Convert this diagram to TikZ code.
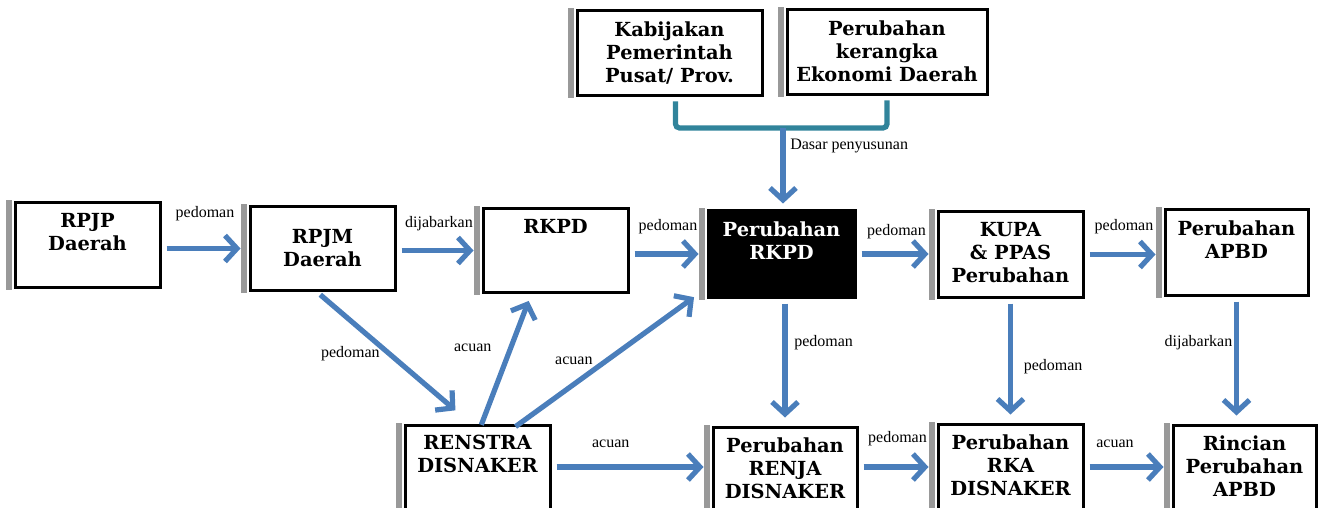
\documentclass[tikz,border=0pt]{standalone}
\usepackage{fontspec}
\usepackage{tikz}
\usetikzlibrary{arrows.meta}
\usetikzlibrary{calc}
\newfontfamily\boxfamily{DejaVu Serif}
\newfontfamily\lblfamily{Liberation Serif}
\definecolor{flowblue}{HTML}{4A7EBB}
\definecolor{brackteal}{HTML}{31849B}
\definecolor{sidegray}{HTML}{999999}
\tikzset{box/.style 2 args = {draw, line width = 1.5pt, fill = white, inner xsep = 0, inner ysep = 5.25pt,
    font = \boxfamily\bfseries\fontsize{9.7}{11.5}\selectfont,
    execute at begin node = {\begin{minipage}[c][#2][t]{#1}\centering},
    execute at end node = {\end{minipage}}}}
\tikzset{midbox/.style 2 args = {draw, line width = 1.5pt, fill = white, inner xsep = 0, inner ysep = 5.25pt,
    font = \boxfamily\bfseries\fontsize{9.7}{11.5}\selectfont,
    execute at begin node = {\begin{minipage}[c][#2][c]{#1}\centering},
    execute at end node = {\end{minipage}}}}
\tikzset{flow/.style = {draw = flowblue, line width = 2.6pt, -{Straight Barb[length = 6pt, width = 13pt]},
    shorten < = 2.5pt, shorten > = 4pt}}
\tikzset{bracket/.style = {draw = brackteal, line width = 2.6pt, rounded corners = 2pt}}
\tikzset{lbl/.style = {font = \lblfamily\fontsize{8}{9}\selectfont}}

\begin{document}
\begin{tikzpicture}[x = 0.5pt, y = -0.5pt]

      \useasboundingbox (0, 0) rectangle (1324, 508);
      \clip (0, 0) rectangle (1324, 508);

      \node [box = {92.5pt}{32pt}] (kebijakan) at (669.5, 53.5) {Kabijakan\\Pemerintah\\Pusat/ Prov.};
      \node [box = {100pt}{32pt}] (kerangka) at (887, 52.5) {Perubahan\\kerangka\\Ekonomi Daerah};

      \node [box = {72.5pt}{31.5pt}] (rpjp) at (87.5, 245) {RPJP\\Daerah};
      \node [midbox = {72.5pt}{31pt}] (rpjm) at (322.5, 248.5) {RPJM\\Daerah};
      \node [box = {72.5pt}{31pt}] (rkpd) at (555.5, 250.5) {RKPD};
      \node [box = {73.5pt}{32.5pt}, fill = black, text = white] (prkpd) at (781.5, 254) {Perubahan\\RKPD};
      \node [box = {72.5pt}{32pt}] (kupa) at (1010.5, 254.5) {KUPA\\\& PPAS\\Perubahan};
      \node [box = {71.5pt}{32pt}] (papbd) at (1236.5, 252.5) {Perubahan\\APBD};

      \node [box = {72.5pt}{34.5pt}] (renstra) at (477.5, 470) {RENSTRA\\DISNAKER};
      \node [box = {72pt}{34.5pt}] (renja) at (785, 472) {Perubahan\\RENJA\\DISNAKER};
      \node [box = {72.5pt}{34.5pt}] (rka) at (1010.5, 469) {Perubahan\\RKA\\DISNAKER};
      \node [box = {71.5pt}{34.5pt}] (rincian) at (1244.5, 470) {Rincian\\Perubahan\\APBD};

      \foreach \n in {kebijakan, kerangka, rpjp, rpjm, rkpd, prkpd, kupa, papbd, renstra, renja, rka, rincian}
        \fill [sidegray] ([shift = {(-3.75pt, -0.5pt)}] \n.south west) rectangle ([shift = {(-0.75pt, 0.5pt)}] \n.north west);

      \coordinate (join) at (783, 128);
      \draw [bracket] ([xshift = 3pt, yshift = -2pt] kebijakan.south) |- (join) -| ([yshift = -2pt] kerangka.south);
      \draw [flow, shorten < = 0pt, shorten > = 3pt] (join) -- node [lbl, pos = 0.22, right = -1pt] (dasar) {Dasar penyusunan} (join |- prkpd.north);

      \draw [flow] (rpjp.east |- rpjm.west) -- node [lbl, above = 9pt] (l1) {pedoman} (rpjm.west);
      \draw [flow] (rpjm.east |- rkpd.west) -- node [lbl, above = 5pt] (l2) {dijabarkan} (rkpd.west);
      \draw [flow] (rkpd.east |- prkpd.west) -- node [lbl, above = 5.5pt] (l3) {pedoman} (prkpd.west);
      \draw [flow] (prkpd.east) -- node [lbl, above = 3pt] (l4) {pedoman} (prkpd.east -| kupa.west);
      \draw [flow] (kupa.east) -- node [lbl, above = 5.5pt] (l5) {pedoman} (kupa.east -| papbd.west);

      \draw [flow] ([yshift = 1.5pt] renstra.east) -- node [lbl, pos = 0.37, above = 5pt] (l6) {acuan} ([yshift = 1.5pt] renstra.east -| renja.west);
      \draw [flow] ([yshift = 1pt] renja.east |- rka.west) -- node [lbl, above = 6pt] (l7) {pedoman} ([yshift = 1pt] rka.west);
      \draw [flow] ([yshift = 1pt] rka.east) -- node [lbl, pos = 0.35, above = 5pt] (l8) {acuan} ([yshift = 1pt] rka.east -| rincian.west);

      \draw [flow] (prkpd.south -| renja.north) -- node [lbl, pos = 0.35, right = 0pt] (l9) {pedoman} (renja.north);
      \draw [flow] (kupa.south) -- node [lbl, pos = 0.55, right = 2pt] (l10) {pedoman} (rka.north);
      \draw [flow] (papbd.south) -- node [lbl, pos = 0.36, left = -2.5pt] (l11) {dijabarkan} (papbd.south |- rincian.north);

      \draw [flow] ([xshift = -3pt] rpjm.south) -- node [lbl, left = 0pt] (l12) {pedoman} ([shift = {(-8pt, 4pt)}] renstra.north);
      \draw [flow] ([shift = {(1pt, -3pt)}] renstra.north) -- node [lbl, pos = 0.6, left = 5pt] (l13) {acuan} ([xshift = -12pt] rkpd.south);
      \draw [flow] ([shift = {(17pt, -3pt)}] renstra.north) -- node [lbl, pos = 0.33, above = 5pt] (l14) {acuan} ([shift = {(-3pt, 3pt)}] prkpd.south west);

    \end{tikzpicture}
\end{document}
